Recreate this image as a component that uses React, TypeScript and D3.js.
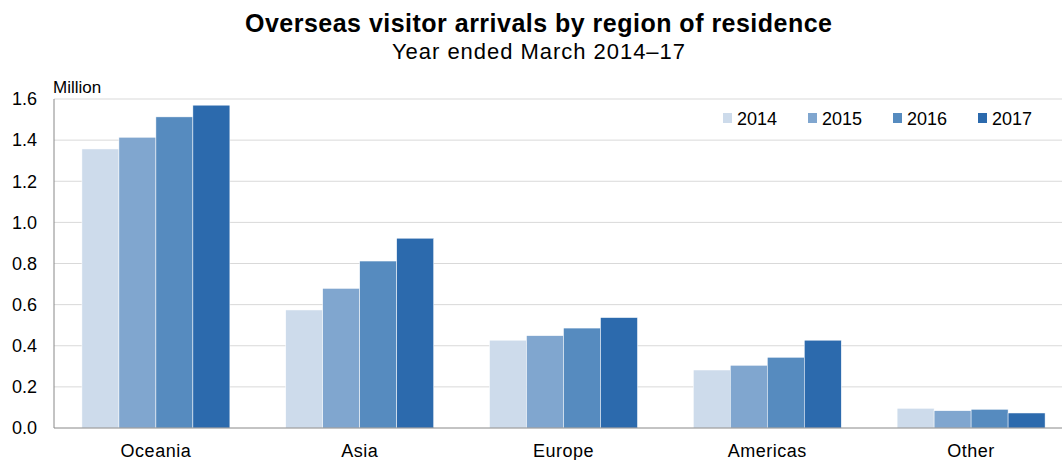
import React from "react";
import * as d3 from "d3";

const categories = ["Oceania", "Asia", "Europe", "Americas", "Other"];
const years = ["2014", "2015", "2016", "2017"];
const v2014 = [1.357, 0.574, 0.427, 0.282, 0.096];
const v2015 = [1.414, 0.679, 0.449, 0.305, 0.084];
const v2016 = [1.513, 0.812, 0.486, 0.344, 0.091];
const v2017 = [1.57, 0.923, 0.537, 0.427, 0.073];
const series = [v2014, v2015, v2016, v2017];
const colors = ["#cddbeb", "#80a6cf", "#568bbf", "#2c6aad"];
const yTicks = [0, 0.2, 0.4, 0.6, 0.8, 1.0, 1.2, 1.4, 1.6];

const W = 1062;
const H = 460;
const FONT = "Arial, 'Liberation Sans', sans-serif";

export default function App() {
  const left = 54;
  const top = 99;
  const bottom = 428;
  const x0 = d3.scaleBand<string>().domain(categories).range([left, 1073]).paddingInner(0.274).paddingOuter(0.137);
  const x1 = d3.scaleBand<string>().domain(years).range([0, x0.bandwidth()]);
  const y = d3.scaleLinear().domain([0, 1.6]).range([bottom, top]);

  return (
    <svg width={W} height={H} style={{ position: "absolute", left: 0, top: 0, background: "#fff" }} fontFamily={FONT}>
      <rect x={0} y={0} width={W} height={H} fill="#fff" />
      <text x={538.5} y={32} textAnchor="middle" fontSize={25} fontWeight="bold" fill="#000"
        textLength={587} lengthAdjust="spacing">
        Overseas visitor arrivals by region of residence
      </text>
      <text x={538.5} y={59} textAnchor="middle" fontSize={22} fill="#000"
        textLength={293} lengthAdjust="spacing">
        Year ended March 2014–17
      </text>
      <text x={53} y={93} fontSize={17} fill="#000">Million</text>
      {yTicks.map((t) => (
        <g key={t}>
          {t > 0 && <line x1={left} x2={W} y1={y(t)} y2={y(t)} stroke="#d9d9d9" strokeWidth={1} />}
          <text x={37} y={y(t)} dy="0.35em" textAnchor="end" fontSize={18} fill="#000">
            {t.toFixed(1)}
          </text>
        </g>
      ))}
      {categories.map((c, ci) => (
        <g key={c} transform={`translate(${x0(c)},0)`}>
          {years.map((yr, si) => (
            <rect
              key={yr}
              x={x1(yr)}
              y={y(series[si][ci])}
              width={x1.bandwidth()}
              height={bottom - y(series[si][ci])}
              fill={colors[si]}
              stroke="#fff"
              strokeWidth={0.5}
            />
          ))}
          <text x={x0.bandwidth() / 2} y={457} textAnchor="middle" fontSize={18} letterSpacing={0.5} fill="#000">
            {c}
          </text>
        </g>
      ))}
      <line x1={left} x2={left} y1={top} y2={bottom} stroke="#888" strokeWidth={1} />
      <line x1={left} x2={W} y1={bottom} y2={bottom} stroke="#888" strokeWidth={1} />
      {years.map((yr, i) => (
        <g key={yr} transform={`translate(${723 + i * 85},0)`}>
          <rect x={0} y={113} width={9} height={10} fill={colors[i]} />
          <text x={14} y={125} fontSize={18} fill="#000">{yr}</text>
        </g>
      ))}
    </svg>
  );
}
